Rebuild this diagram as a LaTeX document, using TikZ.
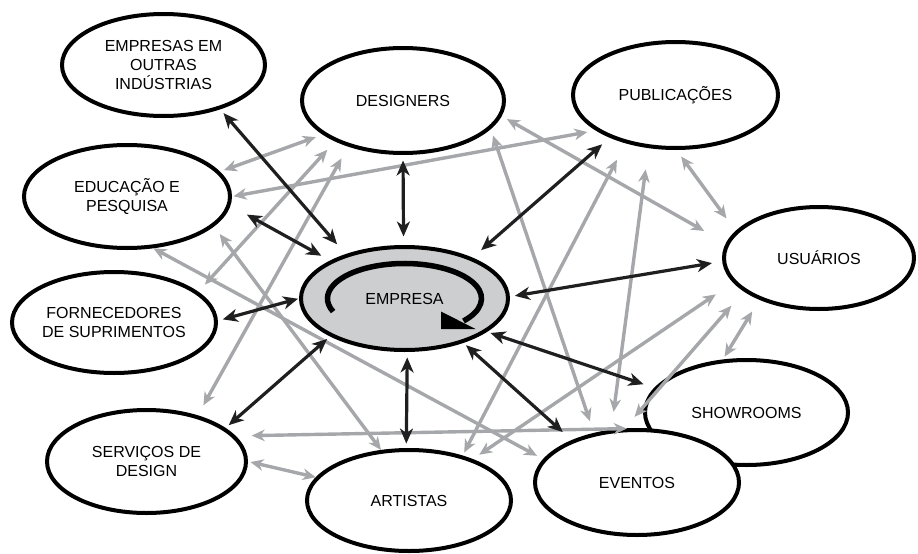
\documentclass[tikz,border=0pt]{standalone}
\usepackage{fontspec}
\setmainfont{Liberation Sans}
\usetikzlibrary{shapes.geometric,arrows.meta,calc}

\definecolor{linkgray}{RGB}{165,167,170}
\definecolor{hubfill}{RGB}{205,206,208}

\begin{document}
\begin{tikzpicture}[x=1pt,y=-1pt,
  bubble/.style={ellipse, draw=black, line width=4pt, fill=white,
    inner sep=0pt, align=center, font=\fontsize{16}{19}\selectfont,
    minimum width=204pt, minimum height=104pt},
  blk/.style={draw=black!88, line width=3.2pt, <->,
    >={Stealth[length=15pt,width=13pt,inset=4.5pt]}},
  gry/.style={draw=linkgray, line width=3.4pt, <->,
    >={Stealth[length=13pt,width=11.5pt,inset=4pt]}},
]
\useasboundingbox (0,0) rectangle (918,554);

% actors around the company
\node[bubble, minimum width=203pt, minimum height=102pt] (ext)  at (163.5,65)   {EMPRESAS EM\\OUTRAS\\INDÚSTRIAS};
\node[bubble, minimum width=202pt, minimum height=105pt] (des)  at (403,100.5)  {DESIGNERS};
\node[bubble, minimum width=205pt, minimum height=106pt] (pub)  at (675.5,95)   {PUBLICAÇÕES};
\node[bubble, minimum width=206pt, minimum height=103pt] (edu)  at (127,196.5)  {EDUCAÇÃO E\\PESQUISA};
\node[bubble, minimum width=190pt, minimum height=102pt] (usu)  at (819,258)    {USUÁRIOS};
\node[bubble, minimum width=204pt, minimum height=101pt] (forn) at (114,322.5)  {FORNECEDORES\\DE SUPRIMENTOS};
\node[bubble, minimum width=199pt, minimum height=103pt] (serv) at (146.5,461.5){SERVIÇOS DE\\DESIGN};
\node[bubble, minimum width=204pt, minimum height=101pt] (art)  at (409,500.5)  {ARTISTAS};
\node[bubble, minimum width=203pt, minimum height=105pt] (show) at (746.5,412.5){SHOWROOMS};
\node[bubble, minimum width=204pt, minimum height=105pt] (eve)  at (637,482.5)  {EVENTOS};

% the company at the centre, with its turning arrow
\node[bubble, fill=hubfill, minimum width=207pt, minimum height=103pt] (emp) at (404.5,298.5) {EMPRESA};
\draw[line width=5.5pt] ($(emp.center)+(202:77pt and 35pt)$)
  arc[start angle=202, end angle=-40, x radius=77pt, y radius=35pt];
\fill ($(emp.center)+(36.5pt,-13pt)$) -- ($(emp.center)+(36.5pt,-30.5pt)$)
  -- ($(emp.center)+(71pt,-30.5pt)$) -- cycle;

% links between the actors
\draw[gry, shorten <=4.3pt, shorten >=7.3pt]  (edu.15.4)    -- (des.-157.5);
\draw[gry, shorten <=1.5pt, shorten >=8.5pt]  (edu.-0.3)    -- (pub.-156.5);
\draw[gry, shorten <=11.3pt, shorten >=9.7pt] (des.-149.2)  -- (forn.20.2);
\draw[gry, shorten <=13.4pt, shorten >=11.5pt](des.-140)    -- (serv.42);
\draw[gry, shorten <=0pt, shorten >=6.9pt]    (edu.-63.7)   -- (eve.166.4);
\draw[gry, shorten <=9.4pt, shorten >=0pt]    (edu.-19.4)   -- (art.119.9);
\draw[gry, shorten <=6pt, shorten >=24.9pt]   (des.-9.5)    -- (usu.171.3);
\draw[gry, shorten <=8pt, shorten >=15.5pt]   (pub.-89.5)   -- (usu.162.6);
\draw[gry, shorten <=6.9pt, shorten >=12.3pt] (des.-18.5)   -- (eve.131.1);
\draw[gry, shorten <=18.5pt, shorten >=3.4pt] (pub.-136.6)  -- (art.40.9);
\draw[gry, shorten <=21.4pt, shorten >=18pt]  (pub.-117.8)  -- (eve.116.4);
\draw[gry, shorten <=20.9pt, shorten >=7.7pt] (usu.-164.8)  -- (art.33.2);
\draw[gry, shorten <=19pt, shorten >=15.3pt]  (usu.-156.9)  -- (eve.103.1);
\draw[gry, shorten <=13.6pt, shorten >=3.3pt] (usu.-145.8)  -- (show.114.7);
\draw[gry, shorten <=16pt, shorten >=20.6pt]  (serv.16.6)   -- (show.-171.7);
\draw[gry, shorten <=2.5pt, shorten >=0pt]    (serv.-0.3)   -- (art.166.5);

% links with the company
\draw[blk, shorten <=5pt, shorten >=13pt]     (ext.-38)     -- (emp.143.5);
\draw[blk, shorten <=18.7pt, shorten >=10pt]  (edu.-5.4)    -- (emp.153.8);
\draw[blk, shorten <=5.5pt, shorten >=8.5pt]  (des.-90)     -- (emp.91);
\draw[blk, shorten <=10pt, shorten >=11.4pt]  (pub.213.5)   -- (emp.31);
\draw[blk, shorten <=10.4pt, shorten >=5pt]   (usu.182.7)   -- (emp.1.8);
\draw[blk, shorten <=5pt, shorten >=1pt]      (forn.1.3)    -- (emp.180.8);
\draw[blk, shorten <=4.2pt, shorten >=3.9pt]  (serv.23.6)   -- (emp.207);
\draw[blk, shorten <=5.5pt, shorten >=4.5pt]  (emp.-87)     -- (art.93);
\draw[blk, shorten <=3.6pt, shorten >=11.3pt] (emp.-22)     -- (show.165.1);
\draw[blk, shorten <=3.5pt, shorten >=12pt]   (emp.-37.5)   -- (eve.147.3);
\end{tikzpicture}
\end{document}
